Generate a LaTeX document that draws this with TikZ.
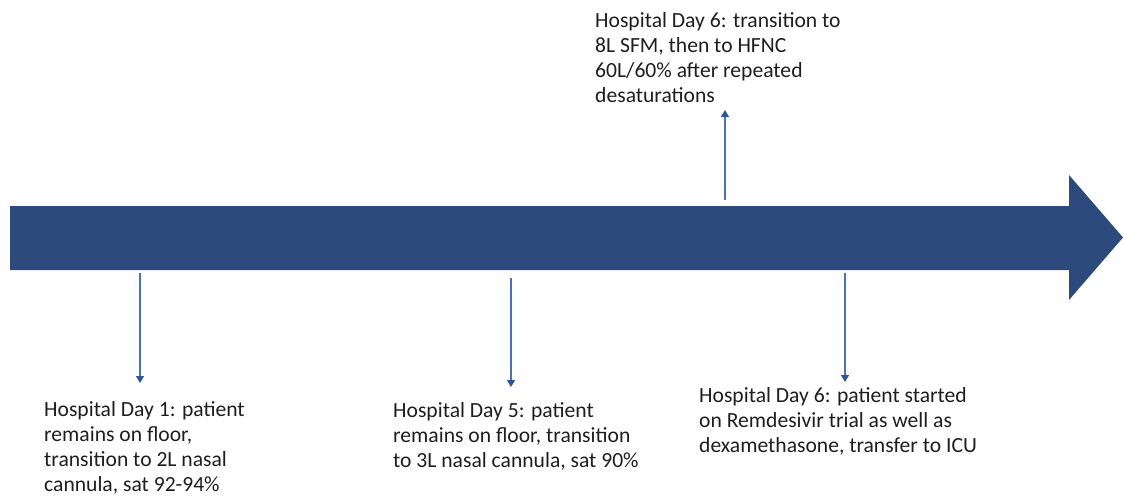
\documentclass[tikz,border=0pt]{standalone}
\usepackage{fontspec}
\setmainfont{Carlito}
\usepackage{xcolor}
\usetikzlibrary{arrows.meta}

\definecolor{barblue}{HTML}{2C4A7C}
\definecolor{lineblue}{HTML}{4A72B2}
\definecolor{tipblue}{HTML}{2F5597}
\definecolor{txtgray}{HTML}{1E1E1E}

\begin{document}
\begin{tikzpicture}[x=1pt,y=-1pt,
    note/.style={anchor=north west, inner sep=0pt, align=left, text=txtgray,
                 font=\fontsize{21.6}{25}\selectfont},
    tick/.style={draw=lineblue, line width=1.3pt, -{Triangle[length=7pt,width=8pt,color=tipblue]}}]
            \useasboundingbox (0,0) rectangle (1123,495);

            % timeline bar
            \fill[barblue] (10,206) -- (1069,206) -- (1069,175) -- (1123,237.5)
                -- (1069,300) -- (1069,270) -- (10,270) -- cycle;

            \node[note] (Day6Up) at (595,12) {Hospital Day 6: transition to\\8L SFM, then to HFNC\\60L/60\% after repeated\\desaturations};
            \node[note] (Day1) at (44,401) {Hospital Day 1: patient\\remains on floor,\\transition to 2L nasal\\cannula, sat 92-94\%};
            \node[note] (Day5) at (393,402) {Hospital Day 5: patient\\remains on floor, transition\\to 3L nasal cannula, sat 90\%};
            \node[note] (Day6Down) at (699,387) {Hospital Day 6: patient started\\on Remdesivir trial as well as\\dexamethasone, transfer to ICU};

            \coordinate (Day6UpFrom) at (725,200);
            \coordinate (Day6UpTo) at (725,110);
            \coordinate (Day1From) at (140,273);
            \coordinate (Day1To) at (140,383);
            \coordinate (Day5From) at (511,278);
            \coordinate (Day5To) at (511,387);
            \coordinate (Day6DownFrom) at (845,273);
            \coordinate (Day6DownTo) at (845,382);

            \draw[tick] (Day6UpFrom) -- (Day6UpTo);
            \draw[tick] (Day1From) -- (Day1To);
            \draw[tick] (Day5From) -- (Day5To);
            \draw[tick] (Day6DownFrom) -- (Day6DownTo);
        \end{tikzpicture}
\end{document}
